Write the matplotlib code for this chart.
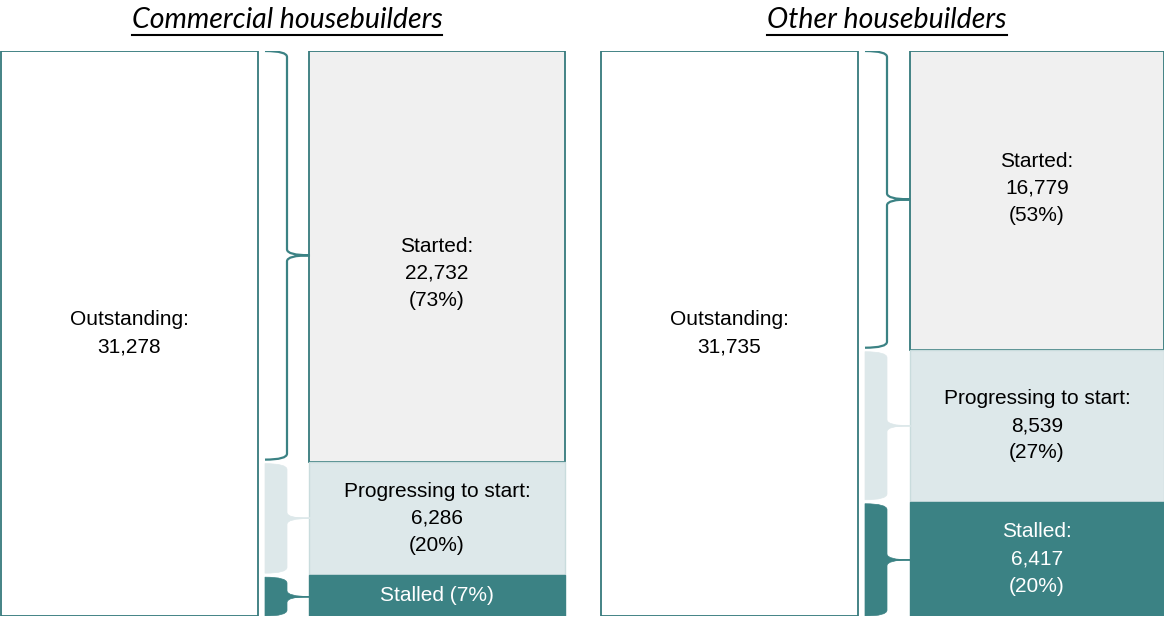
import matplotlib
matplotlib.use("Agg")
import matplotlib.pyplot as plt
from matplotlib.path import Path
from matplotlib.patches import PathPatch
from matplotlib.lines import Line2D
import matplotlib.transforms as mtransforms

# ---------------- data ----------------
panel_titles = ["Commercial housebuilders", "Other housebuilders"]
outstanding = [31278, 31735]
started = [22732, 16779]
progressing = [6286, 8539]
stalled_pct = [7, 20]
started_pct = [73, 53]
progressing_pct = [20, 27]

# ---------------- style ----------------
TEAL = "#3b8284"
TEAL_EDGE = "#357a7c"
LIGHT = "#dde8ea"
LIGHT_EDGE = "#c9dcdd"
GREY = "#f0f0f0"
FONT = "Liberation Sans"
FS = 15
LS = 1.55

W, H = 1164, 617
fig = plt.figure(figsize=(W / 100, H / 100), dpi=100)

panel_x0 = [0, 600]
panel_w = [582, 564]
top_px, bot_px = 51, 616
label_dy = [[-17, 0, 0], [12, 0, 0]]  # pixel shift of text (started, progressing, stalled)


def brace(ax, y_bot, y_top, x0, xm, x1, r, filled, color, lw):
    ymid = (y_bot + y_top) / 2
    verts = [(x0, y_top), (xm, y_top), (xm, y_top - r),
             (xm, ymid + r), (xm, ymid), (x1, ymid),
             (xm, ymid), (xm, ymid - r),
             (xm, y_bot + r), (xm, y_bot), (x0, y_bot)]
    codes = [Path.MOVETO, Path.CURVE3, Path.CURVE3,
             Path.LINETO, Path.CURVE3, Path.CURVE3,
             Path.CURVE3, Path.CURVE3,
             Path.LINETO, Path.CURVE3, Path.CURVE3]
    if filled:
        verts += [(x0, y_top), (x0, y_top)]
        codes += [Path.LINETO, Path.CLOSEPOLY]
        patch = PathPatch(Path(verts, codes), facecolor=color, edgecolor=color,
                          lw=0.5, zorder=2)
        ax.add_patch(patch)
        ax.plot([xm + 2, x1], [ymid, ymid], color=color, lw=1.2, zorder=2)
    else:
        patch = PathPatch(Path(verts, codes), facecolor="none", edgecolor=color,
                          lw=lw, zorder=2)
        ax.add_patch(patch)


for i in range(2):
    x0p = panel_x0[i]
    ax = fig.add_axes([x0p / W, (H - bot_px) / H, panel_w[i] / W, (bot_px - top_px) / H])
    total = outstanding[i]
    ax.set_xlim(0, panel_w[i])
    ax.set_ylim(0, total)
    ax.axis("off")
    px = total / (bot_px - top_px)  # homes per pixel

    stalled = total - started[i] - progressing[i]

    # outstanding bar
    ax.bar(1 + 128.5, total, width=257, bottom=0, color="white",
           edgecolor=TEAL_EDGE, linewidth=1.3, zorder=1)
    ax.text(129.5, total / 2, f"Outstanding:\n{total:,}", ha="center", va="center",
            fontsize=FS, family=FONT, linespacing=LS)

    # stacked bar
    sx = 310 + 127
    sw = 256 if i == 0 else 254
    ax.bar(sx, started[i], width=sw, bottom=stalled + progressing[i], color=GREY,
           edgecolor=TEAL_EDGE, linewidth=1.3, zorder=1)
    ax.bar(sx, progressing[i], width=sw, bottom=stalled, color=LIGHT,
           edgecolor=LIGHT_EDGE, linewidth=1.0, zorder=1)
    ax.bar(sx, stalled, width=sw, bottom=0, color=TEAL,
           edgecolor=TEAL, linewidth=1.0, zorder=1)

    def txt(y, s, dy, color="black"):
        tr = mtransforms.offset_copy(ax.transData, fig=fig, x=0, y=dy, units="dots")
        ax.text(sx, y, s, ha="center", va="center", fontsize=FS, family=FONT,
                color=color, linespacing=LS, transform=tr, zorder=3)

    txt(stalled + progressing[i] + started[i] / 2,
        f"Started:\n{started[i]:,}\n({started_pct[i]}%)", label_dy[i][0])
    txt(stalled + progressing[i] / 2,
        f"Progressing to start:\n{progressing[i]:,}\n({progressing_pct[i]}%)", label_dy[i][1])
    if stalled / total < 0.1:
        txt(stalled / 2, f"Stalled ({stalled_pct[i]}%)", label_dy[i][2], color="white")
    else:
        txt(stalled / 2, f"Stalled:\n{stalled:,}\n({stalled_pct[i]}%)", label_dy[i][2],
            color="white")

    # braces
    r = 6 * px
    gap = 2 * px
    brace(ax, stalled + progressing[i] + gap, total, 265, 287, 310, r, False, TEAL, 1.6)
    brace(ax, stalled + gap, stalled + progressing[i] - gap, 265, 287, 310, r, True,
          LIGHT, 1.0)
    brace(ax, 0, stalled - gap, 265, 287, 310, r, True, TEAL, 1.0)

# titles with underline
title_x = [287, 887]
titles = []
for i in range(2):
    t = fig.text(title_x[i] / W, 1 - 28 / H, panel_titles[i], ha="center", va="baseline",
                 fontsize=20.5, family="Lato", style="italic", color="black")
    titles.append(t)
fig.canvas.draw()
r_ = fig.canvas.get_renderer()
for t in titles:
    bb = t.get_window_extent(renderer=r_)
    y = (H - 35) / H
    fig.add_artist(Line2D([bb.x0 / W, bb.x1 / W], [y, y], color="black", lw=1.5,
                          transform=fig.transFigure))

fig.savefig("out.png", dpi=100, facecolor="white")
